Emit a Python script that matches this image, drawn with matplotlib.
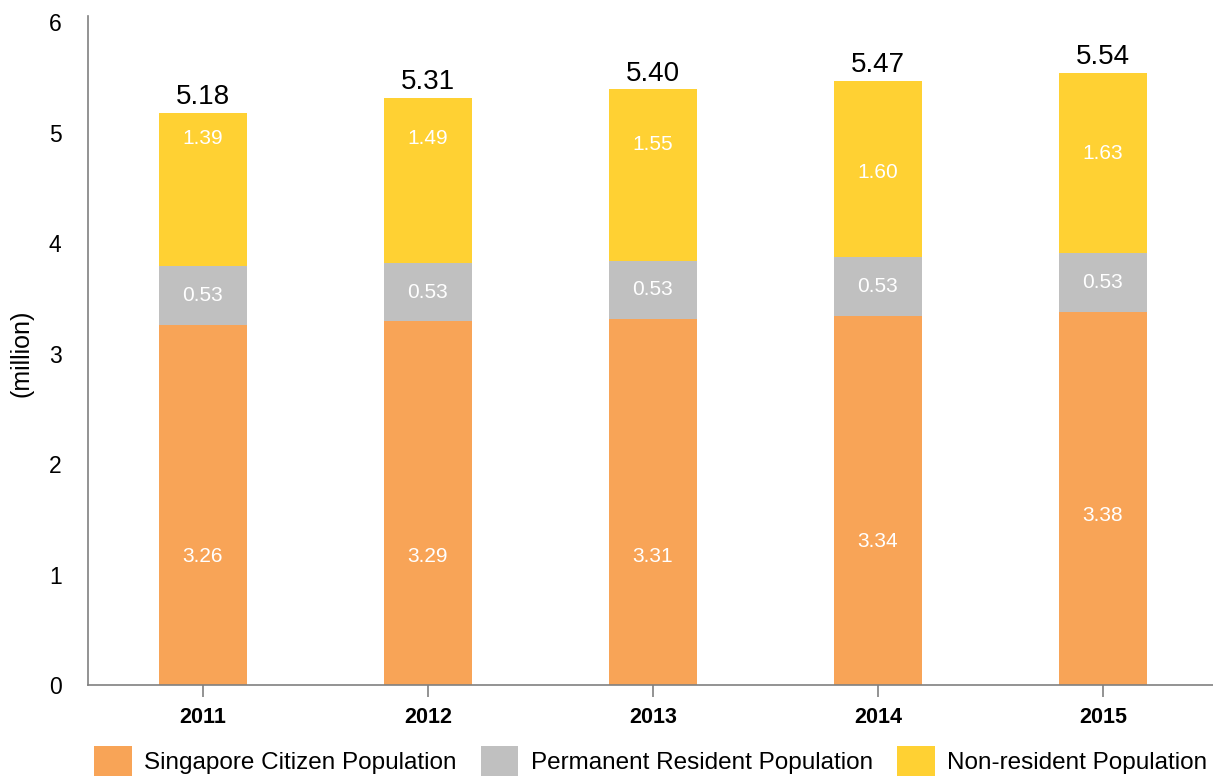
import matplotlib.pyplot as plt
import numpy as np

plt.rcParams['font.family'] = ['Liberation Sans', 'DejaVu Sans']

years = ["2011", "2012", "2013", "2014", "2015"]
citizens = [3.26, 3.29, 3.31, 3.34, 3.38]
residents = [0.53, 0.53, 0.53, 0.53, 0.53]
non_residents = [1.39, 1.49, 1.55, 1.60, 1.63]
totals = [5.18, 5.31, 5.40, 5.47, 5.54]

# where the in-bar labels sit (as drawn in the original)
citizen_label_y = [1.16, 1.16, 1.16, 1.30, 1.53]
nonres_label_y = [4.95, 4.95, 4.89, 4.64, 4.81]

c_orange = "#F8A457"
c_gray = "#C0C0C0"
c_yellow = "#FFD133"

fig = plt.figure(figsize=(12.13, 7.78), dpi=100)
ax = fig.add_axes([0.0725, 0.1195, 0.9275, 0.8522])

x = np.arange(len(years))
w = 0.39
base2 = np.array(citizens) + np.array(residents)

b1 = ax.bar(x, citizens, w, color=c_orange, label="Singapore Citizen Population")
b2 = ax.bar(x, residents, w, bottom=citizens, color=c_gray, label="Permanent Resident Population")
b3 = ax.bar(x, non_residents, w, bottom=base2, color=c_yellow, label="Non-resident Population")

for i in range(len(years)):
    ax.text(x[i], citizen_label_y[i], f"{citizens[i]:.2f}", ha="center", va="center",
            color="white", fontsize=15)
    ax.text(x[i], citizens[i] + residents[i] / 2, f"{residents[i]:.2f}", ha="center",
            va="center", color="white", fontsize=15)
    ax.text(x[i], nonres_label_y[i], f"{non_residents[i]:.2f}", ha="center", va="center",
            color="white", fontsize=15)
    top = base2[i] + non_residents[i]
    ax.annotate(f"{totals[i]:.2f}", (x[i], top), xytext=(0, 2), textcoords="offset points",
                ha="center", va="bottom", fontsize=20, color="black")

ax.set_xlim(-0.511, 4.489)
ax.set_ylim(0, 6)
ax.set_yticks(range(7))
ax.set_xticks(x)
ax.set_xticklabels(years, fontweight="bold")
ax.tick_params(axis="y", length=0, pad=19, labelsize=16.5)
ax.tick_params(axis="x", length=8.5, color="#808080", width=1.2, pad=7, labelsize=15.5)

for s in ["top", "right"]:
    ax.spines[s].set_visible(False)
for s in ["left", "bottom"]:
    ax.spines[s].set_color("#808080")
    ax.spines[s].set_linewidth(1.2)
ax.spines["left"].set_bounds(0, 6.05)

ax.set_ylabel("(million)", fontsize=18)
ax.yaxis.set_label_coords(-0.048, 0.5)

ax.legend(handles=[b1, b2, b3], loc="center", bbox_to_anchor=(0.5, -0.115), ncol=3,
          frameon=False, fontsize=17.5, handlelength=1.55, handleheight=1.55,
          columnspacing=1.0, handletextpad=0.5, borderaxespad=0)

fig.savefig("out.png", dpi=100)
